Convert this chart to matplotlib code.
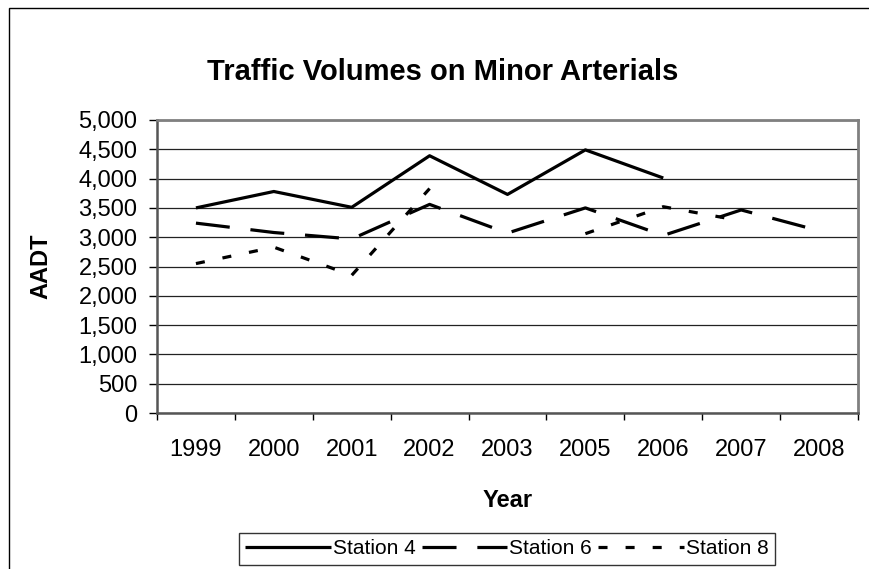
import numpy as np
import matplotlib
matplotlib.use("Agg")
from matplotlib import pyplot as plt
from matplotlib.patches import Rectangle

years = ["1999", "2000", "2001", "2002", "2003", "2005", "2006", "2007", "2008"]
station4 = [3500, 3780, 3510, 4390, 3730, 4490, 4010, np.nan, np.nan]
station6 = [3240, 3080, 2970, 3560, 3070, 3500, 3030, 3465, 3110]
station8 = [2550, 2830, 2350, 3830, np.nan, 3060, 3520, 3280, np.nan]

plt.rcParams['font.family'] = ['Liberation Sans', 'DejaVu Sans']
plt.rcParams['lines.scale_dashes'] = False

fig = plt.figure(figsize=(8.7, 5.69), dpi=100)
# outer chart border (cut off on right and bottom like the reference)
fig.patches.append(Rectangle((9.5/870, -0.1), 1.0, 1 - 8.5/569 + 0.1, transform=fig.transFigure,
                             fill=False, edgecolor='black', linewidth=1.0))

ax = fig.add_axes([157/870, 1 - 413/569, (858 - 157)/870, (413 - 120)/569])
x = np.arange(len(years))

ax.plot(x, station4, color='black', lw=2.3, solid_capstyle='butt', label='Station 4')
ax.plot(x, station6, color='black', lw=2.3, linestyle=(0, (24.5, 15)), dash_capstyle='butt', label='Station 6')
ax.plot(x, station8, color='black', lw=2.3, linestyle=(0, (6.5, 13)), dash_capstyle='butt', label='Station 8')

ax.set_xlim(-0.5, len(years) - 0.5)
ax.set_ylim(0, 5000)
ax.set_yticks(np.arange(0, 5001, 500))
ax.set_yticklabels([f"{v:,}" for v in range(0, 5001, 500)])
ax.yaxis.grid(True, color='#222222', lw=0.9)
ax.set_axisbelow(True)

ax.set_xticks(x)
ax.set_xticklabels(years)
ax.set_xticks(np.arange(-0.5, len(years), 1), minor=True)
ax.tick_params(axis='x', which='major', length=0, pad=19, labelsize=17)
ax.tick_params(axis='x', which='minor', length=5, width=1, direction='out')
ax.tick_params(axis='y', length=6, width=1, direction='out', labelsize=17, pad=8)

for side in ['top', 'right']:
    ax.spines[side].set_color('#808080')
    ax.spines[side].set_linewidth(2)
for side in ['left', 'bottom']:
    ax.spines[side].set_color('#555555')
    ax.spines[side].set_linewidth(1.8)

ax.set_ylabel('AADT', fontsize=17, fontweight='bold')
ax.yaxis.set_label_coords((52 - 157)/701, 0.5)
ax.set_xlabel('Year', fontsize=17, fontweight='bold')
ax.xaxis.set_label_coords((508 - 157)/701, -(489 - 413)/293)
fig.text(443/870, 1 - 72/569, 'Traffic Volumes on Minor Arterials', ha='center', va='center',
         fontsize=21, fontweight='bold')

leg = fig.legend(loc='upper center', bbox_to_anchor=(507/870, 1 - 533/569), ncol=3, frameon=True,
                 fancybox=False, edgecolor='black', fontsize=15, handlelength=4.1,
                 handletextpad=0.1, columnspacing=0.3, borderpad=0.3, borderaxespad=0)
leg.get_frame().set_linewidth(1.0)

fig.savefig('out.png', dpi=100)
